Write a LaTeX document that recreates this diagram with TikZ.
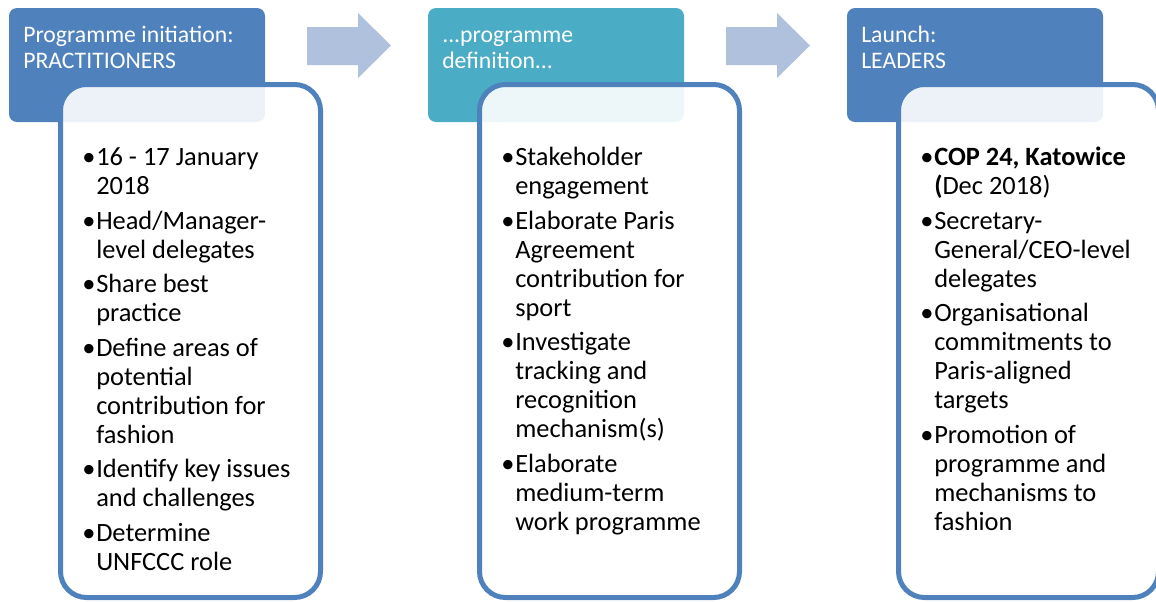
\documentclass[tikz,border=0pt]{standalone}
\usepackage{fontspec}
\setmainfont{Carlito}

\definecolor{hdrblue}{HTML}{4F81BD}
\definecolor{hdrteal}{HTML}{4BACC6}
\definecolor{flowblue}{HTML}{B0C1DD}

\tikzset{
  header/.style={fill=#1, rounded corners=6pt},
  card/.style={draw=hdrblue, line width=3.75pt, fill=white, fill opacity=0.9, rounded corners=19.5pt},
  headtext/.style={anchor=base west, inner sep=0pt, text=white, font=\fontsize{17.8}{19.5}\selectfont},
  bodytext/.style={anchor=base west, inner sep=0pt, font=\fontsize{19.8}{21.75}\selectfont},
  flow/.style={fill=flowblue},
}

\newcommand{\gap}{\\[4.2pt]}

\begin{document}
\begin{tikzpicture}[x=0.75pt, y=-0.75pt]
\useasboundingbox (0,0) rectangle (1156,601);
\clip (0,0) rectangle (1156,601);

%--- Stage 1: initiation ---
\begin{scope}[shift={(0,0)}]
  % Header
  \fill[header=hdrblue] (9,8) rectangle (265,122);
  \node[headtext] (head1) at (23,42)
    {\begin{tabular}[t]{@{}l@{}}Programme initiation:\\PRACTITIONERS\end{tabular}};

  % Card
  \draw[card] (60.5,84.5) rectangle (320.5,597.5);
  \node[bodytext] (body1) at (82,165.5)
    {\begin{tabular}[t]{@{}p{10.5pt}@{}l@{}}
      \textbullet & 16 - 17 January\\ & 2018\gap
      \textbullet & Head/Manager-\\ & level delegates\gap
      \textbullet & Share best\\ & practice\gap
      \textbullet & Define areas of\\ & potential\\ & contribution for\\ & fashion\gap
      \textbullet & Identify key issues\\ & and challenges\gap
      \textbullet & Determine\\ & UNFCCC role
    \end{tabular}};

  % Arrow to next stage
  \fill[flow] (307,27) -- (358,27) -- (358,13) -- (391,45.5) -- (358,78) -- (358,65) -- (307,65) -- cycle;
\end{scope}

%--- Stage 2: definition ---
\begin{scope}[shift={(419,0)}]
  % Header
  \fill[header=hdrteal] (9,8) rectangle (265,122);
  \node[headtext] (head2) at (23,42)
    {\begin{tabular}[t]{@{}l@{}}...programme\\definition...\end{tabular}};

  % Card
  \draw[card] (60.5,84.5) rectangle (320.5,597.5);
  \node[bodytext] (body2) at (82,165.5)
    {\begin{tabular}[t]{@{}p{10.5pt}@{}l@{}}
      \textbullet & Stakeholder\\ & engagement\gap
      \textbullet & Elaborate Paris\\ & Agreement\\ & contribution for\\ & sport\gap
      \textbullet & Investigate\\ & tracking and\\ & recognition\\ & mechanism(s)\gap
      \textbullet & Elaborate\\ & medium-term\\ & work programme
    \end{tabular}};

  % Arrow to next stage
  \fill[flow] (307,27) -- (358,27) -- (358,13) -- (391,45.5) -- (358,78) -- (358,65) -- (307,65) -- cycle;
\end{scope}

%--- Stage 3: launch ---
\begin{scope}[shift={(838,0)}]
  % Header
  \fill[header=hdrblue] (9,8) rectangle (265,122);
  \node[headtext] (head3) at (23,42)
    {\begin{tabular}[t]{@{}l@{}}Launch:\\LEADERS\end{tabular}};

  % Card
  \draw[card] (60.5,84.5) rectangle (320.5,597.5);
  \node[bodytext] (body3) at (82,165.5)
    {\begin{tabular}[t]{@{}p{10.5pt}@{}l@{}}
      \textbullet & \textbf{COP 24, Katowice}\\ & \textbf{(}Dec 2018)\gap
      \textbullet & Secretary-\\ & General/CEO-level\\ & delegates\gap
      \textbullet & Organisational\\ & commitments to\\ & Paris-aligned\\ & targets\gap
      \textbullet & Promotion of\\ & programme and\\ & mechanisms to\\ & fashion
    \end{tabular}};
\end{scope}

\end{tikzpicture}
\end{document}
